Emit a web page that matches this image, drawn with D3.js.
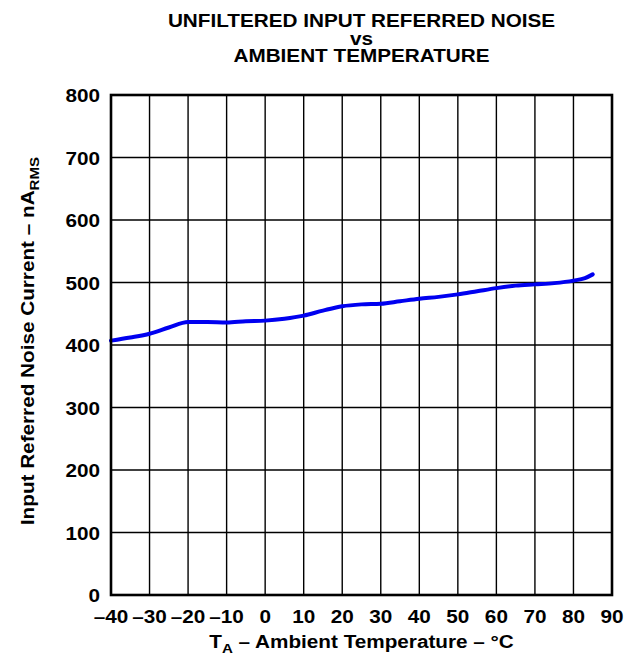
<!DOCTYPE html>
<html><head><meta charset="utf-8">
<script src="https://cdn.jsdelivr.net/npm/d3@7"></script>
<style>
html,body{margin:0;padding:0;background:#fff;}
text{font-family:"Liberation Sans",Arial,Helvetica,sans-serif;font-weight:bold;fill:#000;}
</style></head>
<body>
<svg id="chart" width="629" height="662"></svg>
<script>
const temps = [-40,-35,-30,-25,-20,-15,-10,-5,0,5,10,15,20,25,30,35,40,45,50,55,60,65,70,75,80,83,85];
const noise = [407,412,418,428,437,437,436,438,439,442,447,455,462,465,466,470,474,477,481,486,491,495,497,499,503,507,513];
const xTicks = [-40,-30,-20,-10,0,10,20,30,40,50,60,70,80,90];
const yTicks = [0,100,200,300,400,500,600,700,800];
const titleLines = ["UNFILTERED INPUT REFERRED NOISE","vs","AMBIENT TEMPERATURE"];

const svg = d3.select("#chart");
const L=111, R=612, T=95, B=595;
const x = d3.scaleLinear().domain([-40,90]).range([L,R]);
const y = d3.scaleLinear().domain([0,800]).range([B,T]);
const fs = 18.5, sx = 1.12;
const tr = (px,py,rot) => "translate("+px+","+py+")"+(rot?" rotate("+rot+")":"")+" scale("+sx+",1)";

// grid
const g = svg.append("g");
g.selectAll("line.v").data(xTicks.slice(1,-1)).join("line")
  .attr("x1",d=>x(d)).attr("x2",d=>x(d)).attr("y1",T).attr("y2",B)
  .attr("stroke","#000").attr("stroke-width",1.4);
g.selectAll("line.h").data(yTicks.slice(1,-1)).join("line")
  .attr("y1",d=>y(d)).attr("y2",d=>y(d)).attr("x1",L).attr("x2",R)
  .attr("stroke","#000").attr("stroke-width",1.4);

// curve
const line = d3.line().x((d,i)=>x(temps[i])).y(d=>y(d)).curve(d3.curveMonotoneX);
svg.append("path").datum(noise).attr("d",line)
  .attr("fill","none").attr("stroke","#0000f0").attr("stroke-width",4).attr("stroke-linecap","round");

// border
svg.append("rect").attr("x",L).attr("y",T).attr("width",R-L).attr("height",B-T)
  .attr("fill","none").attr("stroke","#000").attr("stroke-width",2.6);

// y tick labels
svg.selectAll("text.yt").data(yTicks).join("text")
  .attr("transform",d=>tr(L-11,y(d)+7)).attr("text-anchor","end")
  .style("font-size",fs+"px").text(d=>d);

// x tick labels
svg.selectAll("text.xt").data(xTicks).join("text")
  .attr("transform",d=>tr(x(d),623)).attr("text-anchor","middle")
  .style("font-size",fs+"px").text(d=>d<0?"\u2013"+Math.abs(d):d);

// title
const tb=[27,45,62];
svg.selectAll("text.title").data(titleLines).join("text")
  .attr("transform",(d,i)=>tr((L+R)/2,tb[i])).attr("text-anchor","middle")
  .style("font-size",fs+"px").text(d=>d);

// x axis title
const xt = svg.append("text").attr("transform",tr((L+R)/2,648)).attr("text-anchor","middle").style("font-size",fs+"px");
xt.append("tspan").text("T");
xt.append("tspan").attr("dy",5).style("font-size","13.5px").text("A");
xt.append("tspan").attr("dy",-5).text(" \u2013 Ambient Temperature \u2013 \u00B0C");

// y axis title
const yt = svg.append("text").attr("transform",tr(34,(T+B)/2-4,-90))
  .attr("text-anchor","middle").style("font-size",fs+"px");
yt.append("tspan").text("Input Referred Noise Current \u2013 nA");
yt.append("tspan").attr("dy",5).style("font-size","13.5px").text("RMS");
</script>
</body></html>
